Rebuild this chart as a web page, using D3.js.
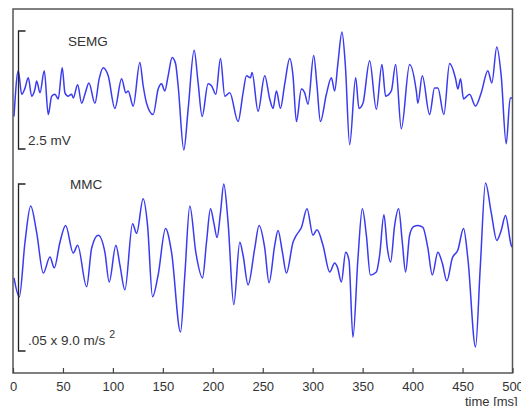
<!DOCTYPE html>
<html><head><meta charset="utf-8">
<script src="https://cdn.jsdelivr.net/npm/d3@7"></script>
<style>
html,body{margin:0;padding:0;background:#fff;overflow:hidden;}
text{font-family:Arial,"Liberation Sans",sans-serif;fill:#333;}
</style></head>
<body><svg id="c" width="521" height="406"></svg>
<script>
// time in ms, SEMG in mV
const semgTime = [1,5.3,8.7,12,15.3,18.7,22,23.7,27,31.3,35.3,38.7,42,45.3,49.3,52,55.3,58.7,60.3,64.7,68.7,72,76,82,86.3,90.3,95.3,102,108.7,113,115.3,120.3,127,130.3,133.7,140.3,145.3,148.7,152,155.3,159.3,162.7,165.3,171,175.3,181.3,185.3,189.3,195.3,198.7,203,207.7,212,217,225.3,230.3,233.7,237.7,239.3,245.3,252,257,260.3,263.7,267.7,272,277,280.3,283.7,288.7,292,295.3,301,304.3,307.7,313.7,318.7,322,325.3,329.3,332.7,337,343,346.3,350.3,357,363.7,369.3,373,378.7,383,388.7,397,403.7,405.3,409.7,417,422,425.3,431.3,437,443,445.3,448,451,457,463,468.7,475.3,479.3,484.3,488.7,493.7,497.7,499.5];
const semgValues = [-0.56,0.41,-0.09,0.04,0.26,-0.13,0.02,0.19,-0.06,0.41,-0.52,-0.13,-0.09,-0.19,0.47,-0.06,-0.13,-0.09,-0.17,0.11,-0.28,-0.09,0.15,-0.28,0.24,0.47,0.30,-0.39,0.24,-0.06,-0.02,-0.34,0.58,0.09,-0.28,-0.52,0.02,0.13,-0.02,0.30,0.69,0.56,0.09,-1.27,-0.41,0.84,0.15,-0.56,0.13,0.09,-0.09,0.67,-0.13,-0.06,-0.67,-0.06,0.30,0.26,0.37,-0.45,0.30,-0.19,-0.39,-0.02,-0.39,0.13,0.67,0.30,-0.67,0.02,-0.06,-0.30,0.73,0.09,-0.67,-0.09,0.26,-0.02,0.58,1.23,0.52,-1.16,0.26,-0.39,-0.28,0.62,-0.41,0.54,-0.13,-0.02,0.54,-0.82,0.54,-0.02,-0.28,0.30,-0.52,0.04,0.04,-0.52,0.56,0.24,0.02,0.24,-0.19,-0.09,-0.34,-0.06,0.41,0.15,0.91,0.30,-1.14,-0.17,-0.17];
// time in ms, MMC in m/s^2
const mmcTime = [1,6.3,12,17.7,23.7,30.3,37,41.3,47,52.7,60.3,64.7,73.7,78.7,85.3,92,96.3,103,107,112,119.7,123.7,130.3,134.7,139.7,145.3,152.7,158.7,167.7,172,177,183,189.7,193.7,197.7,201,204.3,207.7,211,215.3,221,227,230.3,235.3,242,246.3,252,256.3,262,265.3,269.7,273.7,280.3,283.7,288.7,294.3,300.3,304.3,310.3,317,322,324.7,328.7,333,336.3,340.3,345.3,349.7,353.7,357.7,363.7,367,371.3,374.7,378,382,386,389.7,393,397,401,405.3,410.3,415.3,419.7,425.3,429.7,434.3,439.7,445.3,451,455.3,463,467.7,473,478.7,484.3,488.7,493,498.7,499.5];
const mmcValues = [-0.028,-0.079,0.068,0.166,0.094,-0.015,0.028,-0.001,0.068,0.113,0.039,0.060,-0.052,0.052,0.087,0.041,-0.039,0.060,0.007,-0.060,0.118,0.092,0.185,0.113,-0.079,-0.020,0.105,0.041,-0.174,-0.020,0.166,0.041,-0.028,0.068,0.158,0.121,0.081,0.148,0.225,0.121,-0.100,0.068,0.033,-0.047,0.052,0.113,0.052,-0.041,0.060,0.100,0.041,-0.015,0.068,0.087,0.108,0.158,0.087,0.102,0.060,-0.012,0.012,0.001,-0.039,0.041,0.020,-0.188,0.025,0.158,0.087,-0.020,-0.012,0.033,0.142,0.052,0.015,0.113,0.158,0.068,-0.012,0.087,0.110,0.113,0.108,0.052,-0.020,0.041,0.012,-0.036,0.025,0.047,0.105,0.025,-0.214,-0.001,0.228,0.148,0.073,0.100,0.140,0.060,0.055];
const xTicks = [0,50,100,150,200,250,300,350,400,450,500];
const semgLabel = "SEMG", semgScaleLabel = "2.5 mV", semgScaleValue = 2.5;
const mmcLabel = "MMC", mmcScaleLabel = ".05 x 9.0 m/s", mmcScaleSup = "2", mmcScaleValue = 0.45;
const xLabel = "time [ms]";

const svg = d3.select("#c");
const L = 13, R = 512.5, T = 9, B = 373;
const x = d3.scaleLinear().domain([0,500]).range([L,R]);
const yS = d3.scaleLinear().domain([-semgScaleValue/2, semgScaleValue/2]).range([149,31]);
const yM = d3.scaleLinear().domain([-mmcScaleValue/2, mmcScaleValue/2]).range([351,184]);

const blue = "#3a3af0";
const semg = semgTime.map((t,i)=>({t, v:semgValues[i]}));
const mmc = mmcTime.map((t,i)=>({t, v:mmcValues[i]}));

svg.append("path").datum(semg)
  .attr("d", d3.line().x(d=>x(d.t)).y(d=>yS(d.v)).curve(d3.curveMonotoneX))
  .attr("fill","none").attr("stroke",blue).attr("stroke-width",1.5).attr("stroke-linejoin","round");
svg.append("path").datum(mmc)
  .attr("d", d3.line().x(d=>x(d.t)).y(d=>yM(d.v)).curve(d3.curveMonotoneX))
  .attr("fill","none").attr("stroke",blue).attr("stroke-width",1.5).attr("stroke-linejoin","round");

// frame
svg.append("rect").attr("x",L).attr("y",T).attr("width",R-L).attr("height",B-T)
  .attr("fill","none").attr("stroke","#555").attr("stroke-width",1.5);

// axis
const ax = svg.append("g").attr("transform",`translate(0,${B})`)
  .call(d3.axisBottom(x).tickValues(xTicks).tickSize(-5).tickPadding(9));
ax.select(".domain").remove();
ax.selectAll(".tick line").attr("stroke","#444").attr("stroke-width",1.2);
ax.selectAll(".tick text").style("font-size","13px").attr("fill","#333").style("font-family","Arial, 'Liberation Sans', sans-serif");

svg.append("text").attr("x",465).attr("y",406).style("font-size","13px").text(xLabel);

// scale bars
function bracket(y0,y1){
  const bx = 18.5, w = 7;
  svg.append("path")
    .attr("d",`M${bx+w},${y0}H${bx}V${y1}H${bx+w}`)
    .attr("fill","none").attr("stroke","#222").attr("stroke-width",1.3);
}
bracket(yS(semgScaleValue/2), yS(-semgScaleValue/2));
bracket(yM(mmcScaleValue/2), yM(-mmcScaleValue/2));

svg.append("text").attr("x",68).attr("y",46).style("font-size","13.5px").text(semgLabel);
svg.append("text").attr("x",28).attr("y",145).style("font-size","13.5px").text(semgScaleLabel);
svg.append("text").attr("x",70).attr("y",189).style("font-size","13.5px").text(mmcLabel);
const t2 = svg.append("text").attr("x",28).attr("y",345).style("font-size","13.5px");
t2.append("tspan").text(mmcScaleLabel);
t2.append("tspan").attr("dx",4).attr("dy",-7).style("font-size","10.5px").text(mmcScaleSup);
</script></body></html>
